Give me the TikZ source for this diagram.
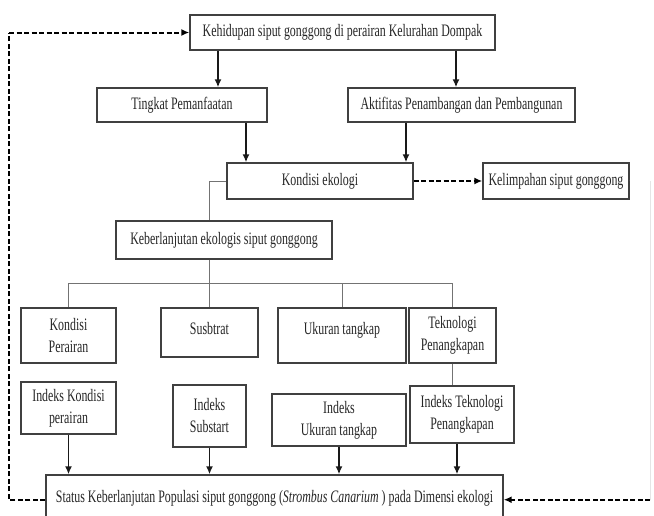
\documentclass[tikz,border=0pt]{standalone}
\usepackage{fontspec}
\setmainfont{Liberation Serif}[FakeStretch=0.68]
\usepackage{tikz}
\usetikzlibrary{arrows.meta,positioning}
\definecolor{boxgray}{RGB}{64,64,64}

\tikzset{
  box/.style={draw=boxgray, line width=1.4pt, fill=white, text=black!85, align=center,
    inner xsep=2pt, inner ysep=4pt, font=\fontsize{17.5pt}{22pt}\selectfont},
  topbox/.style={box, text height=22pt, text depth=#1},
  arr/.style={-{Latex[length=8pt,width=7pt]}, line width=1.5pt, black!90},
  link/.style={black!55, line width=1pt},
  dasharr/.style={-{Latex[length=8pt,width=7pt]}, line width=2pt, dash pattern=on 5pt off 2.5pt},
  dashline/.style={line width=2pt, dash pattern=on 5pt off 2.5pt}
}

\begin{document}
\begin{tikzpicture}[x=1pt, y=-1pt]
    \useasboundingbox (0,0) rectangle (654,515);
    \clip (0,0) rectangle (654,515);
    \fill[white] (0,0) rectangle (654,515);

    \node[box, minimum width=305pt, minimum height=35pt] (top) at (342.5,32.5) {Kehidupan siput gonggong di perairan Kelurahan Dompak};
    \node[box, minimum width=170pt, minimum height=34pt] (tingkat) [node distance=72.5pt, below of=top, xshift=-160.5pt] {Tingkat Pemanfaatan};
    \node[box, minimum width=227pt, minimum height=34pt] (aktif) [node distance=72.5pt, below of=top, xshift=119pt] {Aktifitas Penambangan dan Pembangunan};
    \node[box, minimum width=186pt, minimum height=36pt] (kondisi) [node distance=148.5pt, below of=top, xshift=-22.5pt] {Kondisi ekologi};
    \node[box, minimum width=146pt, minimum height=36pt] (kelimp) [node distance=236pt, right of=kondisi] {Kelimpahan siput gonggong};
    \node[box, minimum width=216pt, minimum height=38pt] (keberl) [node distance=59pt, below of=kondisi, xshift=-96pt] {Keberlanjutan ekologis siput gonggong};
    \coordinate[node distance=43pt, below of=keberl] (bus);

    % faktor
    \node[box, minimum width=95pt, minimum height=55pt] (perair) [node distance=95.5pt, below of=keberl, xshift=-155.5pt] {Kondisi\\Perairan};
    \node[topbox=19pt, minimum width=97pt] (substr) [node distance=141pt, right of=perair, yshift=3pt] {Susbtrat};
    \node[topbox=25pt, minimum width=128pt] (ukuran) [node distance=273.5pt, right of=perair] {Ukuran tangkap};
    \node[box, minimum width=87pt, minimum height=55pt] (teknol) [node distance=384pt, right of=perair] {Teknologi\\Penangkapan};

    % indeks
    \node[box, minimum width=95pt, minimum height=52pt] (iperair) [node distance=72.5pt, below of=perair] {Indeks Kondisi\\perairan};
    \node[box, minimum width=73pt, minimum height=62pt] (isubstr) [node distance=83.5pt, below of=substr] {Indeks\\Substart};
    \node[box, minimum width=134pt, minimum height=52pt] (iukuran) [node distance=84.5pt, below of=ukuran, xshift=-3pt] {Indeks\\Ukuran tangkap};
    \node[box, minimum width=104pt, minimum height=57pt] (iteknol) [node distance=79pt, below of=teknol, xshift=9.5pt] {Indeks Teknologi\\Penangkapan};

    \node[box, text height=23pt, text depth=38pt, minimum width=457pt] (status) [node distance=89.5pt, below of=iukuran, xshift=-64.5pt] {Status Keberlanjutan Populasi siput gonggong (\textit{Strombus Canarium} ) pada Dimensi ekologi};

    \coordinate[node distance=333.5pt, left of=top] (loopL);
    \coordinate[node distance=94pt, right of=kelimp] (loopR);

    \draw[arr] ([xshift=36pt]tingkat.north |- top.south) -- ([xshift=36pt]tingkat.north);
    \draw[arr] ([xshift=-5.5pt]aktif.north |- top.south) -- ([xshift=-5.5pt]aktif.north);
    \draw[arr] ([xshift=64pt]tingkat.south) -- ([xshift=64pt]tingkat.south |- kondisi.north);
    \draw[arr] ([xshift=-55.5pt]aktif.south) -- ([xshift=-55.5pt]aktif.south |- kondisi.north);
    \draw[dasharr] (kondisi.east) -- (kelimp.west);

    \draw[link] (kondisi.west) -| (substr.north |- keberl.north);
    \draw[link] (substr.north |- keberl.south) -- (substr.north);
    \draw[link] (perair.north |- bus) -- (teknol.north |- bus);
    \foreach \n in {perair, ukuran, teknol}
        \draw[link] (\n.north |- bus) -- (\n.north);
    \draw[link] (teknol.south) -- (teknol.south |- iteknol.north);

    \foreach \n in {iperair, isubstr, iukuran}
        \draw[arr] (\n.south) -- (\n.south |- status.north);
    \draw[arr] ([xshift=-5pt]iteknol.south) -- ([xshift=-5pt]iteknol.south |- status.north);

    % umpan balik
    \draw[dashline] (status.mid west) -| (loopL);
    \draw[dasharr] (loopL) -- (top.west);
    \draw[gray!45, double, double distance=1.5pt, line width=0.6pt] (kelimp.east) -- (loopR);
    \draw[gray!20, line width=1pt] (loopR) -- (loopR |- status.mid east);
    \draw[dasharr] (loopR |- status.mid east) -- (status.mid east);
\end{tikzpicture}
\end{document}
